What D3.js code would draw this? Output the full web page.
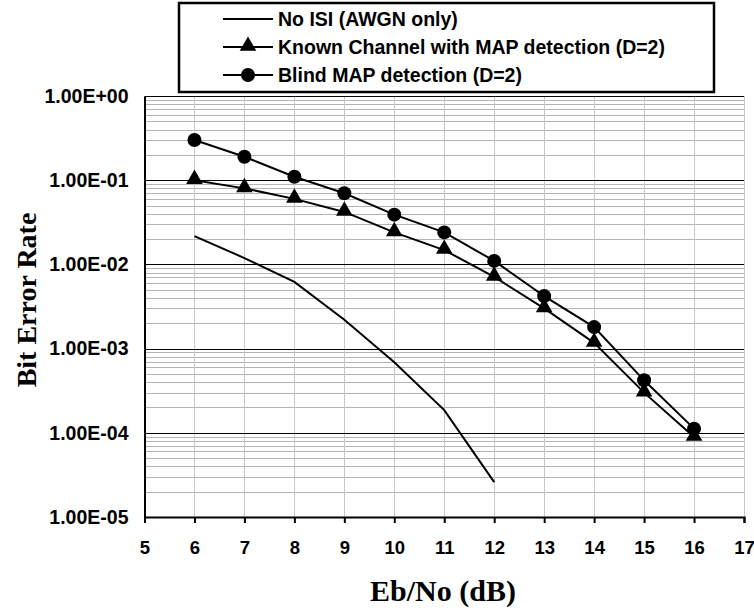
<!DOCTYPE html>
<html>
<head>
<meta charset="utf-8">
<script src="https://cdn.jsdelivr.net/npm/d3@7"></script>
<style>
  body { margin: 0; background: #fff; }
  svg { display: block; }
</style>
</head>
<body>
<svg id="chart" width="754" height="613"></svg>
<script>
'use strict';
// Eb/No vs bit error rate

const ebno = [6, 7, 8, 9, 10, 11, 12, 13, 14, 15, 16];
const noIsi = [0.0217, 0.0119, 0.0062, 0.0022, 0.00069, 0.000186, 0.000026];
const known = [0.1, 0.08, 0.06, 0.042, 0.024, 0.0148, 0.0071, 0.003, 0.00117, 0.0003, 0.000089];
const blind = [0.3, 0.19, 0.11, 0.07, 0.039, 0.024, 0.011, 0.0042, 0.0018, 0.00042, 0.000112];
const xTicks = [5, 6, 7, 8, 9, 10, 11, 12, 13, 14, 15, 16, 17];
const yTicks = [1, 1e-1, 1e-2, 1e-3, 1e-4, 1e-5];
const yLabels = ['1.00E+00', '1.00E-01', '1.00E-02', '1.00E-03', '1.00E-04', '1.00E-05'];
const legendNames = ['No ISI (AWGN only)', 'Known Channel with MAP detection (D=2)', 'Blind MAP detection (D=2)'];

var pLeft = 144.5, pRight = 744, pTop = 96, pBottom = 517;
var sans = 'Arial, Liberation Sans, sans-serif';
var serif = 'Times New Roman, Liberation Serif, serif';

var svg = d3.select('#chart');

var x = d3.scaleLinear().domain([5, 17]).range([pLeft, pRight]);
var y = d3.scaleLog().domain([1e-5, 1]).range([pBottom, pTop]);

// minor horizontal gridlines
var minor = [];
for (let e = -5; e < 0; e++) {
	for (let m = 2; m <= 9; m++) minor.push(m * Math.pow(10, e));
}
svg.append('g').selectAll('line')
	.data(minor).enter().append('line')
	.attr('x1', pLeft).attr('x2', pRight)
	.attr('y1', d => Math.round(y(d)) + 0.5)
	.attr('y2', d => Math.round(y(d)) + 0.5)
	.attr('stroke', '#b4b4b4').attr('stroke-width', 1);

// vertical gridlines
svg.append('g').selectAll('line')
	.data(xTicks.slice(1)).enter().append('line')
	.attr('x1', d => Math.round(x(d)) + 0.5)
	.attr('x2', d => Math.round(x(d)) + 0.5)
	.attr('y1', pTop).attr('y2', pBottom)
	.attr('stroke', '#c8c8c8').attr('stroke-width', 1);

// major horizontal gridlines
svg.append('g').selectAll('line')
	.data(yTicks.slice(0, -1)).enter().append('line')
	.attr('x1', pLeft).attr('x2', pRight)
	.attr('y1', d => Math.round(y(d)) + 0.5)
	.attr('y2', d => Math.round(y(d)) + 0.5)
	.attr('stroke', '#000').attr('stroke-width', 1);

// x axis
var xAxis = d3.axisBottom(x).tickValues(xTicks).tickSize(6).tickPadding(18).tickFormat(d3.format('d'));
var gx = svg.append('g').attr('transform', `translate(0,${pBottom})`).call(xAxis);
gx.select('.domain').attr('stroke-width', 2);
gx.selectAll('.tick line').attr('stroke-width', 2);
gx.selectAll('text')
	.attr('font-family', sans)
	.attr('font-weight', 'bold').attr('font-size', 18.5).attr('fill', '#000');

// y axis
var yAxis = d3.axisLeft(y).tickValues(yTicks).tickSize(0).tickPadding(16)
	.tickFormat((d, i) => yLabels[i]);
var gy = svg.append('g').attr('transform', `translate(${pLeft},0)`).call(yAxis);
gy.select('.domain').attr('stroke-width', 2);
gy.selectAll('text')
	.attr('font-family', sans)
	.attr('font-weight', 'bold').attr('font-size', 19.5).attr('fill', '#000');

// axis titles
svg.append('text')
	.attr('x', 443).attr('y', 601)
	.attr('text-anchor', 'middle')
	.attr('font-family', serif)
	.attr('font-weight', 'bold').attr('font-size', 30)
	.text('Eb/No (dB)');
svg.append('text')
	.attr('transform', 'translate(36,300) rotate(-90)')
	.attr('text-anchor', 'middle')
	.attr('font-family', serif)
	.attr('font-weight', 'bold').attr('font-size', 28)
	.text('Bit Error Rate');

// series lines
var line = d3.line().x((d, i) => x(ebno[i])).y(d => y(d));
[noIsi, known, blind].forEach(function(s) {
	svg.append('path')
		.datum(s)
		.attr('d', line)
		.attr('fill', 'none')
		.attr('stroke', '#000')
		.attr('stroke-width', 2);
});

// markers
var tri = d3.symbol().type(d3.symbolTriangle).size(120);
svg.append('g').selectAll('path')
	.data(known).enter().append('path')
	.attr('d', tri)
	.attr('transform', (d, i) => `translate(${x(ebno[i])},${y(d) - 1})`)
	.attr('fill', '#000');
svg.append('g').selectAll('circle')
	.data(blind).enter().append('circle')
	.attr('cx', (d, i) => x(ebno[i]))
	.attr('cy', d => y(d))
	.attr('r', 7)
	.attr('fill', '#000');

// legend
var lg = svg.append('g');
lg.append('rect')
	.attr('x', 179).attr('y', 3)
	.attr('width', 535).attr('height', 89)
	.attr('fill', '#fff').attr('stroke', '#000').attr('stroke-width', 2.5);
legendNames.forEach(function(name, i) {
	var ly = 19 + i * 28;
	lg.append('line')
		.attr('x1', 223).attr('x2', 273)
		.attr('y1', ly).attr('y2', ly)
		.attr('stroke', '#000').attr('stroke-width', 2);
	if (i === 1) {
		lg.append('path').attr('d', tri).attr('transform', `translate(248,${ly - 1})`);
	}
	if (i === 2) {
		lg.append('circle').attr('cx', 248).attr('cy', ly).attr('r', 7);
	}
	lg.append('text')
		.attr('x', 278).attr('y', ly + 7)
		.attr('font-family', sans)
		.attr('font-weight', 'bold').attr('font-size', 19.5)
		.text(name);
});
</script>
</body>
</html>
